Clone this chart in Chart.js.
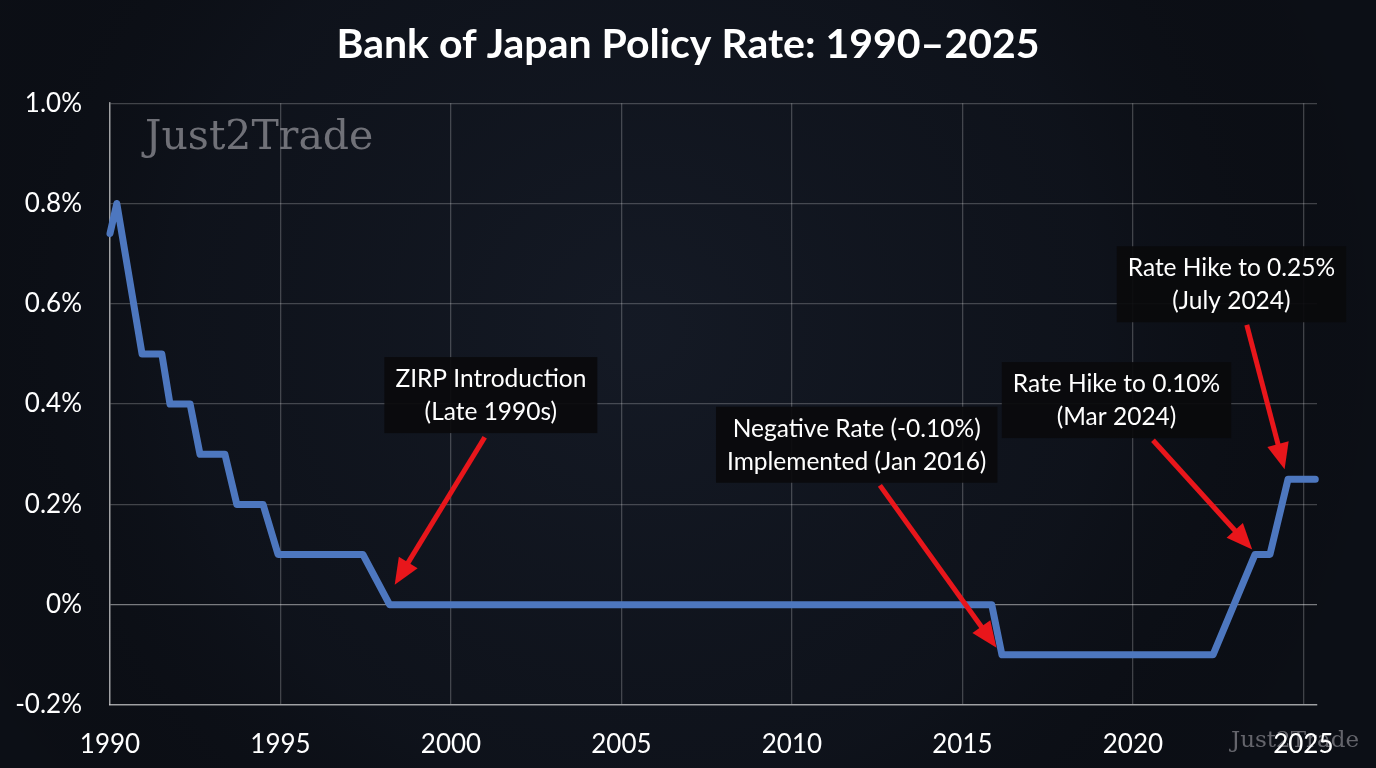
<!DOCTYPE html>
<html>
<head>
<meta charset="utf-8">
<script src="https://cdn.jsdelivr.net/npm/chart.js@4.4.1/dist/chart.umd.min.js"></script>
<style>
  html, body { margin: 0; padding: 0; background: #0f131c; }
  #wrap { width: 1376px; height: 768px; position: relative; }
</style>
</head>
<body>
<div id="wrap"><canvas id="c"></canvas></div>
<script>
// ---- data ----
const years = [1990, 1990.2, 1990.94, 1991.52, 1991.76, 1992.35, 1992.64, 1993.37, 1993.72, 1994.49, 1994.93, 1997.42, 1998.2, 2015.86, 2016.16, 2022.35, 2023.58, 2024.02, 2024.55, 2025.35];
const rates = [0.74, 0.80, 0.50, 0.50, 0.40, 0.40, 0.30, 0.30, 0.20, 0.20, 0.10, 0.10, 0.00, 0.00, -0.10, -0.10, 0.10, 0.10, 0.25, 0.25];
const xTickValues = [1990, 1995, 2000, 2005, 2010, 2015, 2020, 2025];
const yTickValues = [-0.2, 0, 0.2, 0.4, 0.6, 0.8, 1.0];

const annotationLines = [
  ["ZIRP Introduction", "(Late 1990s)"],
  ["Negative Rate (-0.10%)", "Implemented (Jan 2016)"],
  ["Rate Hike to 0.10%", "(Mar 2024)"],
  ["Rate Hike to 0.25%", "(July 2024)"]
];
// box centre, arrow tail, arrow tip (in data coordinates: year, rate)
const annotationBox = [[2001.17, 0.418], [2011.9, 0.319], [2019.52, 0.408], [2022.89, 0.639]];
const annotationTail = [[2000.99, 0.334], [2012.58, 0.238], [2020.59, 0.328], [2023.34, 0.558]];
const annotationTip = [[1998.35, 0.04], [2016.0, -0.086], [2023.5, 0.11], [2024.45, 0.27]];

const points = years.map((y, i) => ({ x: y, y: rates[i] }));

const bgPlugin = {
  id: 'bg',
  beforeDraw(chart) {
    const ctx = chart.ctx, w = chart.width, h = chart.height;
    ctx.save();
    ctx.fillStyle = '#0c0f16';
    ctx.fillRect(0, 0, w, h);
    const g = ctx.createRadialGradient(640, 330, 20, 640, 330, 760);
    g.addColorStop(0, 'rgba(30,38,54,0.45)');
    g.addColorStop(0.6, 'rgba(20,26,38,0.3)');
    g.addColorStop(1, 'rgba(0,0,0,0)');
    ctx.fillStyle = g;
    ctx.fillRect(0, 0, w, h);
    // bottom-right watermark (under tick labels)
    ctx.font = '23px "DejaVu Serif"';
    ctx.fillStyle = 'rgba(130,130,136,0.75)';
    ctx.textAlign = 'left';
    ctx.textBaseline = 'middle';
    ctx.fillText('Just2Trade', 1231, 741);
    ctx.restore();
  },
  beforeDatasetsDraw(chart) {
    const ctx = chart.ctx;
    ctx.save();
    ctx.font = '41px "DejaVu Serif"';
    ctx.fillStyle = 'rgba(140,140,146,0.78)';
    ctx.textAlign = 'left';
    ctx.textBaseline = 'middle';
    ctx.fillText('Just2Trade', 145, 138);
    ctx.restore();
  }
};

const annotPlugin = {
  id: 'annot',
  afterDatasetsDraw(chart) {
    const ctx = chart.ctx;
    const xs = chart.scales.x, ys = chart.scales.y;
    const px = p => [xs.getPixelForValue(p[0]), ys.getPixelForValue(p[1])];
    ctx.save();
    annotationLines.forEach((lines, i) => {
      const [tx, ty] = px(annotationTail[i]);
      const [hx, hy] = px(annotationTip[i]);
      const ang = Math.atan2(hy - ty, hx - tx);
      const headLen = 26, headHalf = 11;
      const bx = hx - Math.cos(ang) * headLen, by = hy - Math.sin(ang) * headLen;
      ctx.strokeStyle = '#e8161b';
      ctx.fillStyle = '#e8161b';
      ctx.lineWidth = 5;
      ctx.lineCap = 'butt';
      ctx.beginPath();
      ctx.moveTo(tx, ty);
      ctx.lineTo(bx + Math.cos(ang) * 2, by + Math.sin(ang) * 2);
      ctx.stroke();
      ctx.beginPath();
      ctx.moveTo(hx, hy);
      ctx.lineTo(bx + Math.cos(ang + Math.PI / 2) * headHalf, by + Math.sin(ang + Math.PI / 2) * headHalf);
      ctx.lineTo(bx - Math.cos(ang + Math.PI / 2) * headHalf, by - Math.sin(ang + Math.PI / 2) * headHalf);
      ctx.closePath();
      ctx.fill();

      const [cx, cy] = px(annotationBox[i]);
      ctx.font = '24.5px Lato';
      const tw = Math.max(...lines.map(l => ctx.measureText(l).width));
      const bw = tw + 22, bh = 76;
      ctx.fillStyle = 'rgba(10,10,12,0.93)';
      ctx.fillRect(cx - bw / 2, cy - bh / 2, bw, bh);
      ctx.fillStyle = '#ffffff';
      ctx.textAlign = 'center';
      ctx.textBaseline = 'middle';
      ctx.fillText(lines[0], cx, cy - 16);
      ctx.fillText(lines[1], cx, cy + 17);
    });
    ctx.restore();
  }
};

new Chart(document.getElementById('c'), {
  type: 'line',
  data: {
    datasets: [{
      data: points,
      borderColor: '#4d77bf',
      borderWidth: 7,
      pointRadius: 0,
      tension: 0,
      borderJoinStyle: 'round',
      borderCapStyle: 'round',
      clip: false
    }]
  },
  options: {
    responsive: true,
    maintainAspectRatio: false,
    animation: false,
    devicePixelRatio: 1,
    layout: { padding: { left: 0, right: 0, top: 0, bottom: 0 } },
    plugins: {
      legend: { display: false },
      tooltip: { enabled: false },
      title: {
        display: true,
        text: 'Bank of Japan Policy Rate: 1990\u20132025',
        color: '#ffffff',
        font: { family: 'Lato', size: 41, weight: 'bold' },
        padding: { top: 20, bottom: 34 }
      }
    },
    scales: {
      x: {
        type: 'linear',
        min: 1990,
        max: 2025.4,
        afterBuildTicks(scale) { scale.ticks = xTickValues.map(v => ({ value: v })); },
        afterFit(scale) { scale.height = 63; },
        grid: { color: 'rgba(255,255,255,0.22)', lineWidth: 1.3, drawTicks: false },
        border: { display: true, color: 'rgba(255,255,255,0.5)', width: 1.5 },
        ticks: {
          color: '#ffffff',
          font: { family: 'Lato', size: 26 },
          padding: 24,
          maxRotation: 0,
          autoSkip: false,
          callback: v => String(v)
        }
      },
      y: {
        min: -0.2,
        max: 1.0,
        afterBuildTicks(scale) { scale.ticks = yTickValues.map(v => ({ value: v })); },
        afterFit(scale) { scale.width = 110; },
        grid: {
          color: ctx => (ctx.tick && Math.abs(ctx.tick.value) < 1e-9) ? 'rgba(255,255,255,0.45)' : 'rgba(255,255,255,0.22)',
          lineWidth: 1.3,
          drawTicks: false
        },
        border: { display: true, color: 'rgba(255,255,255,0.5)', width: 1.5 },
        ticks: {
          color: '#ffffff',
          font: { family: 'Lato', size: 26 },
          padding: 28,
          autoSkip: false,
          callback: v => {
            const r = Math.round(v * 10) / 10;
            return r === 0 ? '0%' : r.toFixed(1) + '%';
          }
        }
      },
      yr: {
        position: 'right',
        min: -0.2,
        max: 1.0,
        afterFit(scale) { scale.width = 59; },
        grid: { display: false, drawTicks: false },
        border: { display: false },
        ticks: { display: false }
      }
    }
  },
  plugins: [bgPlugin, annotPlugin]
});
</script>
</body>
</html>
